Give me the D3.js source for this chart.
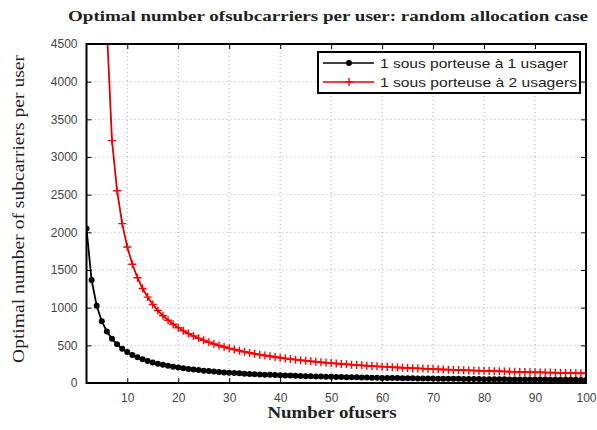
<!DOCTYPE html>
<html>
<head>
<meta charset="utf-8">
<script src="https://cdn.jsdelivr.net/npm/d3@7"></script>
<style>
  body { margin: 0; background: #fff; }
  svg { display: block; }
</style>
</head>
<body>
<svg id="main" width="597" height="430"></svg>
<script>
// number of users (x axis), one point per user count
const users = d3.range(2, 101);

// 1 sous porteuse a 1 usager (black, dots)
const oneUser = [
  2050, 1367, 1025, 820, 683, 586, 513, 456, 410, 373,
  342, 315, 293, 273, 256, 241, 228, 216, 205, 195,
  186, 178, 171, 164, 158, 152, 146, 141, 137, 132,
  128, 124, 121, 117, 114, 111, 108, 105, 103, 100,
  98, 95, 93, 91, 89, 87, 85, 84, 82, 80,
  79, 77, 76, 75, 73, 72, 71, 69, 68, 67,
  66, 65, 64, 63, 62, 61, 60, 59, 59, 58,
  57, 56, 55, 55, 54, 53, 53, 52, 51, 51,
  50, 49, 49, 48, 48, 47, 47, 46, 46, 45,
  45, 44, 44, 43, 43, 42, 42, 41, 41
];

// 1 sous porteuse a 2 usagers (red, crosses) - first points are off the top
const twoUsers = [
  40000, 20000, 11000, 7000, 4700, 3217, 2552, 2115, 1806, 1576,
  1397, 1255, 1140, 1043, 962, 893, 832, 780, 734, 692,
  656, 623, 593, 566, 541, 518, 497, 478, 460, 444,
  428, 414, 401, 388, 376, 365, 355, 345, 335, 326,
  318, 310, 302, 295, 288, 282, 275, 269, 264, 258,
  253, 248, 243, 238, 234, 229, 225, 221, 217, 214,
  210, 206, 203, 200, 197, 194, 191, 188, 185, 182,
  179, 177, 174, 172, 170, 167, 165, 163, 161, 159,
  157, 155, 153, 151, 149, 147, 146, 144, 142, 141,
  139, 138, 136, 135, 133, 132, 130, 129, 128
];

const xTicks = [10, 20, 30, 40, 50, 60, 70, 80, 90, 100];
const yTicks = [0, 500, 1000, 1500, 2000, 2500, 3000, 3500, 4000, 4500];

const legendLabels = ["1 sous porteuse à 1 usager", "1 sous porteuse à 2 usagers"];

/////////////////////////////////////////////////////////

const svg = d3.select("#main");
const pLeft = 86.5, pRight = 586, pTop = 44, pBottom = 383;

const x = d3.scaleLinear().domain([2, 100]).range([pLeft, pRight]);
const y = d3.scaleLinear().domain([0, 4500]).range([pBottom, pTop]);

const serif = "'Liberation Serif', 'DejaVu Serif', serif";
const sans = "'Liberation Sans', Arial, sans-serif";

// title
svg.append("text")
    .attr("x", 68).attr("y", 21)
    .attr("textLength", 520)
    .attr("lengthAdjust", "spacingAndGlyphs")
    .style("font-family", serif)
    .style("font-weight", "bold")
    .style("font-size", "14px")
    .attr("fill", "#222")
    .text("Optimal number ofsubcarriers per user:  random allocation case");

// grid
const grid = svg.append("g").attr("stroke", "#999").attr("stroke-width", 0.8)
    .attr("stroke-dasharray", "1,3");
grid.selectAll(".gx").data(xTicks.slice(0, -1)).enter().append("line")
    .attr("x1", d => x(d)).attr("x2", d => x(d))
    .attr("y1", pTop).attr("y2", pBottom);
grid.selectAll(".gy").data(yTicks.slice(1, -1)).enter().append("line")
    .attr("x1", pLeft).attr("x2", pRight)
    .attr("y1", d => y(d)).attr("y2", d => y(d));

// axes, ticks inward on all sides
const tickStyle = g => {
    g.select(".domain").remove();
    g.selectAll(".tick line").attr("stroke", "#000").attr("stroke-width", 1);
    g.selectAll(".tick text")
        .style("font-family", sans).style("font-size", "12px").attr("fill", "#444");
};
svg.append("g").attr("transform", `translate(0,${pBottom})`)
    .call(d3.axisBottom(x).tickValues(xTicks).tickFormat(d3.format("d"))
        .tickSizeInner(-5).tickPadding(10))
    .call(tickStyle);
svg.append("g").attr("transform", `translate(0,${pTop})`)
    .call(d3.axisTop(x).tickValues(xTicks).tickSizeInner(-5).tickFormat(""))
    .call(tickStyle);
svg.append("g").attr("transform", `translate(${pLeft},0)`)
    .call(d3.axisLeft(y).tickValues(yTicks).tickFormat(d3.format("d"))
        .tickSizeInner(-5).tickPadding(9))
    .call(tickStyle);
svg.append("g").attr("transform", `translate(${pRight},0)`)
    .call(d3.axisRight(y).tickValues(yTicks).tickSizeInner(-5).tickFormat(""))
    .call(tickStyle);

// clip the curves to the plot box
svg.append("clipPath").attr("id", "plotclip")
    .append("rect").attr("x", pLeft).attr("y", pTop)
    .attr("width", pRight - pLeft).attr("height", pBottom - pTop);

const plot = svg.append("g").attr("clip-path", "url(#plotclip)");
const line = d3.line().x(d => x(d[0])).y(d => y(d[1]));

const blackPts = users.map((u, i) => [u, oneUser[i]]);
const redPts = users.map((u, i) => [u, twoUsers[i]]);

plot.append("path").datum(blackPts)
    .attr("d", line).attr("fill", "none")
    .attr("stroke", "#000").attr("stroke-width", 1.8);
plot.selectAll(".dot").data(blackPts).enter().append("circle")
    .attr("cx", d => x(d[0])).attr("cy", d => y(d[1]))
    .attr("r", 3).attr("fill", "#000");

plot.append("path").datum(redPts)
    .attr("d", line).attr("fill", "none")
    .attr("stroke", "#e00000").attr("stroke-width", 1.8);
// "+" marker
plot.selectAll(".plus").data(redPts).enter().append("path")
    .attr("transform", d => `translate(${x(d[0])},${y(d[1])})`)
    .attr("d", "M-4,0H4M0,-4V4")
    .attr("stroke", "#ff0000").attr("stroke-width", 1.4).attr("fill", "none");

// frame
svg.append("rect").attr("x", pLeft).attr("y", pTop)
    .attr("width", pRight - pLeft).attr("height", pBottom - pTop)
    .attr("fill", "none").attr("stroke", "#000").attr("stroke-width", 2);

// legend
const lg = svg.append("g");
lg.append("rect").attr("x", 318).attr("y", 52).attr("width", 262).attr("height", 41)
    .attr("fill", "#fff").attr("stroke", "#000").attr("stroke-width", 2);
const legendRows = lg.selectAll(".row").data(legendLabels).enter().append("g")
    .attr("transform", (d, i) => `translate(0,${63 + i * 19})`);
legendRows.append("line").attr("x1", 323).attr("x2", 374).attr("y1", 0).attr("y2", 0)
    .attr("stroke", (d, i) => i ? "#e00000" : "#000").attr("stroke-width", 1.5);
legendRows.filter((d, i) => i === 0).append("circle")
    .attr("cx", 349).attr("cy", 0).attr("r", 3).attr("fill", "#000");
legendRows.filter((d, i) => i === 1).append("path")
    .attr("d", "M345,0H353M349,-4V4")
    .attr("stroke", "#ff0000").attr("stroke-width", 1.4);
legendRows.append("text").attr("x", 380).attr("y", 4.5)
    .attr("textLength", (d, i) => i ? 197 : 188)
    .attr("lengthAdjust", "spacingAndGlyphs")
    .style("font-family", sans).style("font-size", "13px").attr("fill", "#222")
    .text(d => d);

// axis labels
svg.append("text")
    .attr("x", 332).attr("y", 418).attr("text-anchor", "middle")
    .attr("textLength", 129).attr("lengthAdjust", "spacingAndGlyphs")
    .style("font-family", serif).style("font-weight", "bold").style("font-size", "16px")
    .attr("fill", "#222")
    .text("Number ofusers");

svg.append("text")
    .attr("transform", "translate(24,209) rotate(-90)")
    .attr("text-anchor", "middle")
    .attr("textLength", 308).attr("lengthAdjust", "spacingAndGlyphs")
    .style("font-family", serif).style("font-size", "16px")
    .attr("fill", "#222")
    .text("Optimal number of subcarriers per user");

console.log("All done");
</script>
</body>
</html>
